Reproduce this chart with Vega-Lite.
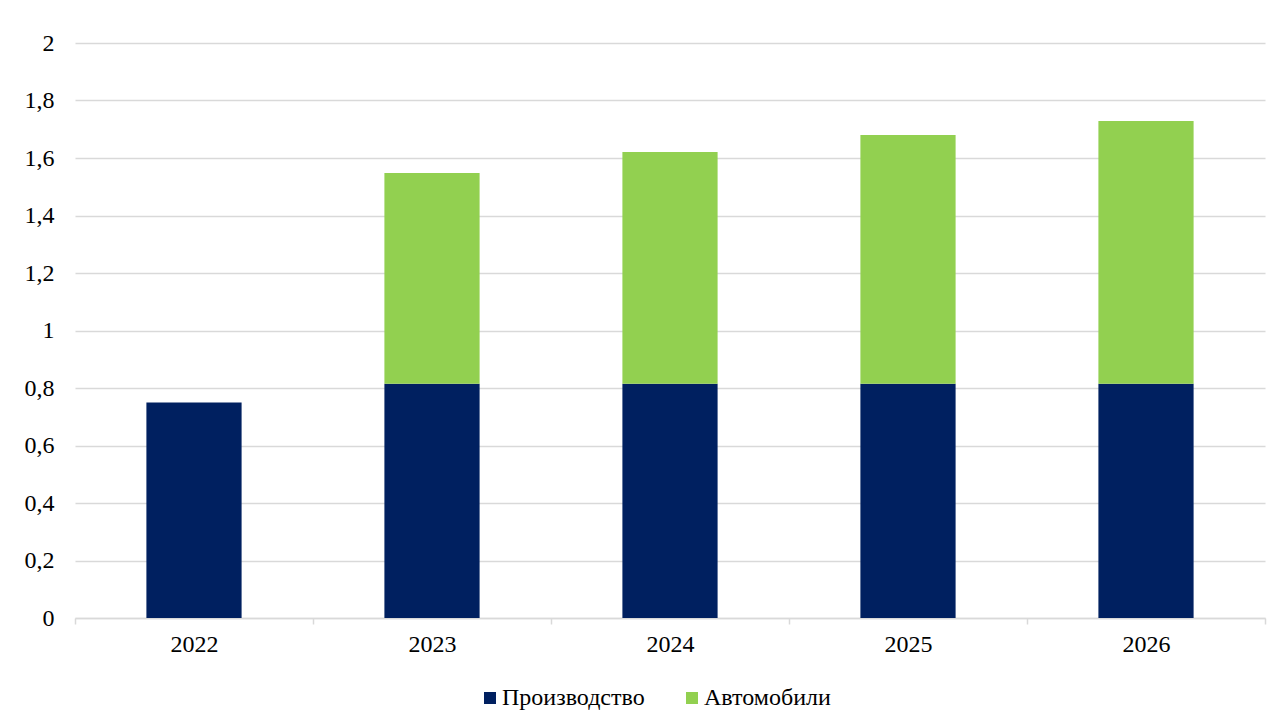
{
  "$schema": "https://vega.github.io/schema/vega-lite/v6.json",
  "autosize": {"type": "none"},
  "width": 1190,
  "height": 575,
  "padding": {"left": 75, "top": 43, "right": 18, "bottom": 107},
  "background": "white",
  "config": {
    "view": {"stroke": null},
    "font": "Liberation Serif",
    "axis": {"labelFont": "Liberation Serif", "labelFontSize": 24, "labelColor": "#000000"},
    "legend": {"labelFont": "Liberation Serif", "labelFontSize": 24, "labelColor": "#000000"}
  },
  "data": {
    "values": [
      {"year": "2022", "series": "Производство", "value": 0.75, "ord": 1},
      {"year": "2023", "series": "Производство", "value": 0.815, "ord": 1},
      {"year": "2024", "series": "Производство", "value": 0.815, "ord": 1},
      {"year": "2025", "series": "Производство", "value": 0.815, "ord": 1},
      {"year": "2026", "series": "Производство", "value": 0.815, "ord": 1},
      {"year": "2023", "series": "Автомобили", "value": 0.733, "ord": 2},
      {"year": "2024", "series": "Автомобили", "value": 0.806, "ord": 2},
      {"year": "2025", "series": "Автомобили", "value": 0.865, "ord": 2},
      {"year": "2026", "series": "Автомобили", "value": 0.914, "ord": 2}
    ]
  },
  "mark": {"type": "bar", "width": {"band": 0.4}},
  "encoding": {
    "x": {
      "field": "year",
      "type": "nominal",
      "scale": {"paddingInner": 0, "paddingOuter": 0},
      "axis": {
        "title": null,
        "labelAngle": 0,
        "labelPadding": 8,
        "tickBand": "extent",
        "tickColor": "#d9d9d9",
        "tickWidth": 1.5,
        "tickSize": 6,
        "domainColor": "#d9d9d9",
        "domainWidth": 1.5,
        "grid": false
      }
    },
    "y": {
      "field": "value",
      "type": "quantitative",
      "stack": "zero",
      "scale": {"domain": [0, 2], "nice": false},
      "axis": {
        "title": null,
        "values": [0, 0.2, 0.4, 0.6, 0.8, 1, 1.2, 1.4, 1.6, 1.8, 2],
        "labelExpr": "replace(format(datum.value, '.1~f'), '.', ',')",
        "ticks": false,
        "domain": false,
        "labelPadding": 21,
        "grid": true,
        "gridColor": "#d9d9d9",
        "gridWidth": 1.5
      }
    },
    "color": {
      "field": "series",
      "type": "nominal",
      "scale": {"domain": ["Производство", "Автомобили"], "range": ["#002060", "#92D050"]},
      "legend": {
        "title": null,
        "orient": "none",
        "direction": "horizontal",
        "legendX": 403,
        "legendY": 643,
        "symbolType": "square",
        "symbolSize": 144,
        "symbolStrokeWidth": 0,
        "labelOffset": 0,
        "columnPadding": 35
      }
    },
    "order": {"field": "ord", "type": "quantitative"}
  }
}
